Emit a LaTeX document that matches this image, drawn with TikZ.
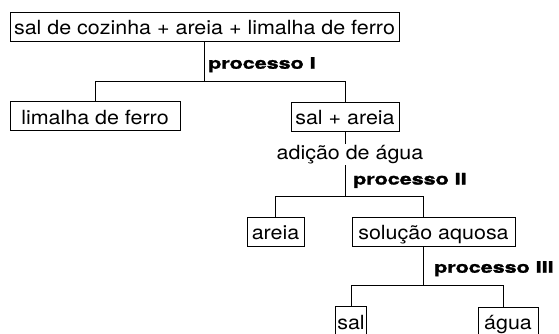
\documentclass[tikz,border=0pt]{standalone}
\usepackage{fontspec}
\setmainfont{TeX Gyre Heros}[FakeStretch=1.1]
\newfontfamily\procfont{TeX Gyre Heros}[FakeStretch=1.36, FakeBold=1.6]
\usepackage{tikz}
\usetikzlibrary{positioning,shapes}
\tikzstyle{line} = [line width=0.9pt]
\tikzstyle{box} = [draw, line width=0.9pt, rectangle, inner xsep=2pt, inner ysep=4.5pt,
    text height=18pt, text depth=2pt, font=\fontsize{19.5}{20}\selectfont]
\tikzstyle{proc} = [inner sep=0pt, font=\procfont\bfseries\fontsize{15.8}{16}\selectfont]
\tikzstyle{note} = [fill=white, inner xsep=1pt, inner ysep=1pt, font=\fontsize{19.5}{20}\selectfont]

\begin{document}
\begin{tikzpicture}[x=1pt, y=1pt]
     \useasboundingbox (0,0) rectangle (559,-333);
     \node [box, minimum width=389pt] (mix) at (204.5,-26.5) {sal de cozinha + areia + limalha de ferro};
     \node [box, minimum width=170pt] (limalha) at (95,-116.2) {limalha de ferro};
     \node [box, minimum width=108pt] (salareia) at (345,-116.7) {sal + areia};
     \draw [line] (mix.south) -- ([yshift=-40pt]mix.south) coordinate (j1) -| (limalha.north);
     \draw [line] (j1) -| (salareia.north);
     \node [proc, anchor=base west] (proc1) at (208,-68.7) {processo I};

     % second step
     \node [box, minimum width=57pt] (areia) at (275.5,-231.8) {areia};
     \node [box, minimum width=163pt] (solucao) at (433.5,-231.7) {solução aquosa};
     \draw [line] (salareia.south) -- ([yshift=-64.8pt]salareia.south) coordinate (j2) -| (areia.north);
     \draw [line] (j2) -| ([xshift=-10.5pt]solucao.north);
     \node [note, anchor=base] (adicao) at (350,-159.3) {adição de água};
     \node [proc, anchor=base west] (proc2) at (353,-184.5) {processo II};

     % third step
     \node [box, minimum width=31pt] (sal) at (351,-321) {sal};
     \node [box, minimum width=60pt] (agua) at (508,-321.5) {água};
     \draw [line] ([xshift=-10.5pt]solucao.south) -- ([xshift=-10.5pt, yshift=-38.8pt]solucao.south) coordinate (j3) -| (sal.north);
     \draw [line] (j3) -| ([xshift=-5pt]agua.north);
     \node [proc, anchor=base west] (proc3) at (434,-272.7) {processo III};
\end{tikzpicture}
\end{document}
